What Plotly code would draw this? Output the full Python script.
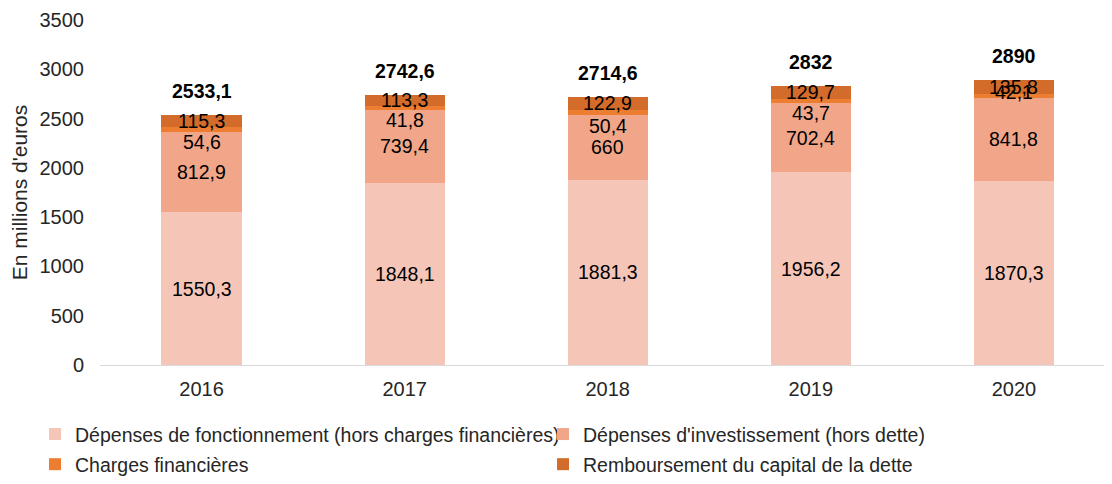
import plotly.graph_objects as go

years = ["2016", "2017", "2018", "2019", "2020"]
fonctionnement = [1550.3, 1848.1, 1881.3, 1956.2, 1870.3]
investissement = [812.9, 739.4, 660.0, 702.4, 841.8]
charges_fin = [54.6, 41.8, 50.4, 43.7, 42.1]
remboursement = [115.3, 113.3, 122.9, 129.7, 135.8]
totals = [2533.1, 2742.6, 2714.6, 2832.0, 2890.0]

series_names = [
    "Dépenses de fonctionnement (hors charges financières)",
    "Dépenses d'investissement (hors dette)",
    "Charges financières",
    "Remboursement du capital de la dette",
]
colors = ["#F5C6B7", "#F1A689", "#ED7D31", "#D36C2A"]

# label vertical nudges (px) for the small "charges financières" segments
charge_label_shift = [-13, -12, -14, -12, 4]

FONT = "Arial, Liberation Sans, sans-serif"
TXT = "#262626"

def fmt(v):
    s = ("%.1f" % v).rstrip("0").rstrip(".")
    return s.replace(".", ",")

series = [fonctionnement, investissement, charges_fin, remboursement]
legend_ids = ["legend", "legend", "legend2", "legend2"]

fig = go.Figure()
for name, vals, col, lg in zip(series_names, series, colors, legend_ids):
    fig.add_trace(go.Bar(x=years, y=vals, name=name, legend=lg,
                         marker=dict(color=col, line=dict(width=0)), hoverinfo="skip"))

annotations = []
for i, yr in enumerate(years):
    base = 0.0
    for k, vals in enumerate(series):
        mid = base + vals[i] / 2
        shift = charge_label_shift[i] if k == 2 else 0
        annotations.append(dict(x=i, xref="x", y=mid, yref="y", text=fmt(vals[i]), showarrow=False,
                                yshift=shift, font=dict(family=FONT, size=19.5, color="#000000")))
        base += vals[i]
    annotations.append(dict(x=i, xref="x", y=totals[i], yref="y", text="<b>%s</b>" % fmt(totals[i]),
                            showarrow=False, yshift=24,
                            font=dict(family=FONT, size=19.5, color="#000000")))

leg_common = dict(orientation="h", xanchor="left", yanchor="middle", traceorder="normal",
                  entrywidth=463, font=dict(family=FONT, size=19.5, color=TXT),
                  itemclick=False, bgcolor="rgba(0,0,0,0)")

fig.update_layout(
    barmode="stack",
    bargap=0.605,
    width=1104, height=476,
    margin=dict(l=92, r=0, t=12, b=116),
    plot_bgcolor="white", paper_bgcolor="white",
    font=dict(family=FONT, size=19, color=TXT),
    annotations=annotations,
    showlegend=True,
    legend=dict(x=-0.0642, y=-0.2011, **leg_common),
    legend2=dict(x=-0.0642, y=-0.2902, **leg_common),
    xaxis=dict(type="category", range=[-0.5, 4.483], showline=True, linecolor="#D9D9D9", linewidth=1,
               ticks="", ticklabelstandoff=6, tickfont=dict(family=FONT, size=20, color=TXT),
               showgrid=False, automargin=False),
    yaxis=dict(range=[0, 3500], dtick=500, showgrid=False, zeroline=False, showline=False,
               tickfont=dict(family=FONT, size=20, color=TXT), ticks="", ticklabelstandoff=15,
               automargin=False,
               title=dict(text="En millions d'euros", font=dict(family=FONT, size=21, color=TXT),
                          standoff=18)),
)

fig.write_html("out.html")
